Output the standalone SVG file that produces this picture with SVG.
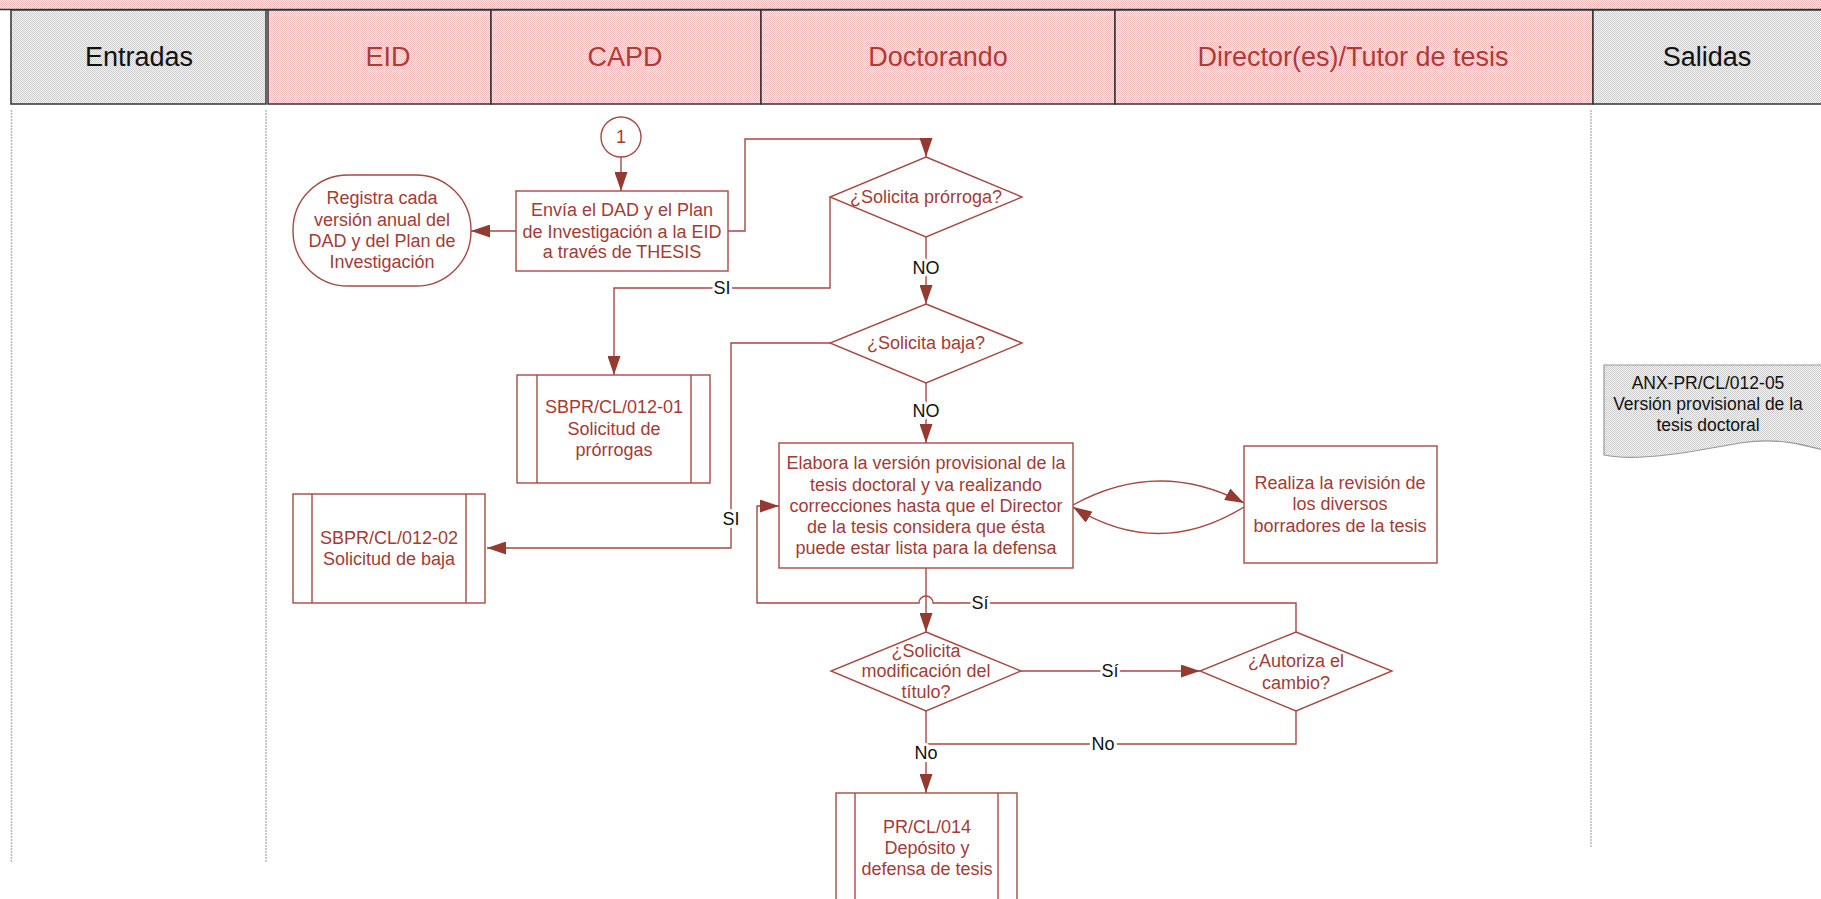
<svg xmlns="http://www.w3.org/2000/svg" width="1821" height="899" viewBox="0 0 1821 899">
<defs>
<pattern id="pk" patternUnits="userSpaceOnUse" width="2" height="2">
<rect width="2" height="2" fill="#fcecec"/>
<rect width="1" height="1" fill="#ebbaba"/>
<rect x="1" y="1" width="1" height="1" fill="#ebbaba"/>
</pattern>
<pattern id="gy" patternUnits="userSpaceOnUse" width="2" height="2">
<rect width="2" height="2" fill="#f6f6f6"/>
<rect width="1" height="1" fill="#cbcbcb"/>
<rect x="1" y="1" width="1" height="1" fill="#cbcbcb"/>
</pattern>
<marker id="ah" markerUnits="userSpaceOnUse" markerWidth="19" markerHeight="13" refX="19" refY="6.5" orient="auto">
<path d="M0,0 L19,6.5 L0,13 z" fill="#943a31"/>
</marker>
<style>
.hd{font-family:"Liberation Sans",Arial,sans-serif;font-size:27px;text-anchor:middle}
.hr{fill:#ad3c37}
.hb{fill:#111}
.cell{stroke:#333;stroke-width:1.5}
.lane{stroke:#b8b8b8;stroke-width:1.5;stroke-dasharray:2,1;fill:none}
.sh{fill:#fff;stroke:#a54a44;stroke-width:1.4}
.t{font-family:"Liberation Sans",Arial,sans-serif;font-size:18px;fill:#a23c37;text-anchor:middle}
.tb{font-family:"Liberation Sans",Arial,sans-serif;font-size:17.5px;fill:#111;text-anchor:middle}
.c{fill:none;stroke:#a54a44;stroke-width:1.4}
.ca{fill:none;stroke:#a54a44;stroke-width:1.4;marker-end:url(#ah)}
.lbl{font-family:"Liberation Sans",Arial,sans-serif;font-size:18px;fill:#111;text-anchor:middle;paint-order:stroke;stroke:#fff;stroke-width:6px;stroke-linejoin:round}
</style>
</defs>
<rect width="1821" height="899" fill="#fff"/>
<g id="header">
<rect x="0" y="0" width="1821" height="10" fill="url(#pk)"/>
<line x1="0" y1="9.5" x2="1821" y2="9.5" stroke="#333" stroke-width="1.5"/>
<rect class="cell" x="11" y="10" width="255" height="94" fill="url(#gy)"/>
<rect class="cell" x="268" y="10" width="223" height="94" fill="url(#pk)"/>
<rect class="cell" x="491" y="10" width="270" height="94" fill="url(#pk)"/>
<rect class="cell" x="761" y="10" width="354" height="94" fill="url(#pk)"/>
<rect class="cell" x="1115" y="10" width="478" height="94" fill="url(#pk)"/>
<rect class="cell" x="1593" y="10" width="240" height="94" fill="url(#gy)"/>
<text class="hd hb" x="139" y="66">Entradas</text>
<text class="hd hr" x="388" y="66">EID</text>
<text class="hd hr" x="625" y="66">CAPD</text>
<text class="hd hr" x="938" y="66">Doctorando</text>
<text class="hd hr" x="1353" y="66">Director(es)/Tutor de tesis</text>
<text class="hd hb" x="1707" y="66">Salidas</text>
</g>
<g id="lanes">
<line class="lane" x1="11.5" y1="110" x2="11.5" y2="862"/>
<line class="lane" x1="266" y1="110" x2="266" y2="862"/>
<line class="lane" x1="1591" y1="110" x2="1591" y2="848"/>
</g>
<g id="connectors">
<path class="ca" d="M621,157 V191"/>
<path class="ca" d="M516,231 H471"/>
<path class="ca" d="M728,231 H745 V139 H926 V157"/>
<path class="ca" d="M926,237 V304"/>
<path class="ca" d="M830,197 V288 H614 V375"/>
<path class="ca" d="M926,383 V443"/>
<path class="ca" d="M830,343 H731 V548 H487"/>
<path class="ca" d="M1073,505 Q1158,458 1244,503"/>
<path class="ca" d="M1244,507 Q1158,560 1073,507"/>
<path class="ca" d="M926,568 V632"/>
<path class="ca" d="M1021,671 H1200"/>
<path class="ca" d="M1296,632 V603 H933 A7,7 0 0 0 919,603 H757 V506 H779"/>
<path class="c" d="M1296,711 V744 H926"/>
<path class="ca" d="M926,711 V793"/>
<text class="lbl" x="926" y="274">NO</text>
<text class="lbl" x="722" y="294">SI</text>
<text class="lbl" x="926" y="417">NO</text>
<text class="lbl" x="731" y="525">SI</text>
<text class="lbl" x="980" y="609">Sí</text>
<text class="lbl" x="1110" y="677">Sí</text>
<text class="lbl" x="1103" y="750">No</text>
<text class="lbl" x="926" y="759">No</text>
</g>
<g id="n_conn1">
<circle class="sh" cx="621" cy="137" r="20"/>
<text class="t" x="621" y="143">1</text>
</g>
<g id="n_envia">
<rect class="sh" x="516" y="191" width="212" height="80"/>
<text class="t" x="622" y="216">Envía el DAD y el Plan</text>
<text class="t" x="622" y="238">de Investigación a la EID</text>
<text class="t" x="622" y="258">a través de THESIS</text>
</g>
<g id="n_registra">
<rect class="sh" x="293" y="175" width="178" height="111" rx="55" ry="55"/>
<text class="t" x="382" y="204">Registra cada</text>
<text class="t" x="382" y="226">versión anual del</text>
<text class="t" x="382" y="247">DAD y del Plan de</text>
<text class="t" x="382" y="268">Investigación</text>
</g>
<g id="n_d1">
<polygon class="sh" points="926,157 1022,197 926,237 830,197"/>
<text class="t" x="926" y="203">¿Solicita prórroga?</text>
</g>
<g id="n_d2">
<polygon class="sh" points="926,304 1022,343 926,383 830,343"/>
<text class="t" x="926" y="349">¿Solicita baja?</text>
</g>
<g id="n_sbpr01">
<rect class="sh" x="517" y="375" width="193" height="108"/>
<line class="c" x1="537" y1="375" x2="537" y2="483"/>
<line class="c" x1="691" y1="375" x2="691" y2="483"/>
<text class="t" x="614" y="413">SBPR/CL/012-01</text>
<text class="t" x="614" y="435">Solicitud de</text>
<text class="t" x="614" y="456">prórrogas</text>
</g>
<g id="n_sbpr02">
<rect class="sh" x="293" y="494" width="192" height="109"/>
<line class="c" x1="312" y1="494" x2="312" y2="603"/>
<line class="c" x1="466" y1="494" x2="466" y2="603"/>
<text class="t" x="389" y="544">SBPR/CL/012-02</text>
<text class="t" x="389" y="565">Solicitud de baja</text>
</g>
<g id="n_elabora">
<rect class="sh" x="779" y="443" width="294" height="125"/>
<text class="t" x="926" y="469">Elabora la versión provisional de la</text>
<text class="t" x="926" y="491">tesis doctoral y va realizando</text>
<text class="t" x="926" y="512">correcciones hasta que el Director</text>
<text class="t" x="926" y="533">de la tesis considera que ésta</text>
<text class="t" x="926" y="554">puede estar lista para la defensa</text>
</g>
<g id="n_realiza">
<rect class="sh" x="1244" y="446" width="193" height="117"/>
<text class="t" x="1340" y="489">Realiza la revisión de</text>
<text class="t" x="1340" y="510">los diversos</text>
<text class="t" x="1340" y="532">borradores de la tesis</text>
</g>
<g id="n_d3">
<polygon class="sh" points="926,632 1021,671 926,711 831,671"/>
<text class="t" x="926" y="657">¿Solicita</text>
<text class="t" x="926" y="677">modificación del</text>
<text class="t" x="926" y="698">título?</text>
</g>
<g id="n_autoriza">
<polygon class="sh" points="1296,632 1392,671 1296,711 1200,671"/>
<text class="t" x="1296" y="667">¿Autoriza el</text>
<text class="t" x="1296" y="689">cambio?</text>
</g>
<g id="n_prcl014">
<rect class="sh" x="836" y="793" width="181" height="120"/>
<line class="c" x1="855" y1="793" x2="855" y2="913"/>
<line class="c" x1="998" y1="793" x2="998" y2="913"/>
<text class="t" x="927" y="833">PR/CL/014</text>
<text class="t" x="927" y="854">Depósito y</text>
<text class="t" x="927" y="875">defensa de tesis</text>
</g>
<g id="n_anx">
<path d="M1604,365 H1830 V452 C1805,445 1780,437 1740,443 C1690,452 1640,462 1604,455 Z" fill="url(#gy)" stroke="#999" stroke-width="1.2"/>
<text class="tb" x="1708" y="389">ANX-PR/CL/012-05</text>
<text class="tb" x="1708" y="410">Versión provisional de la</text>
<text class="tb" x="1708" y="431">tesis doctoral</text>
</g>
</svg>
